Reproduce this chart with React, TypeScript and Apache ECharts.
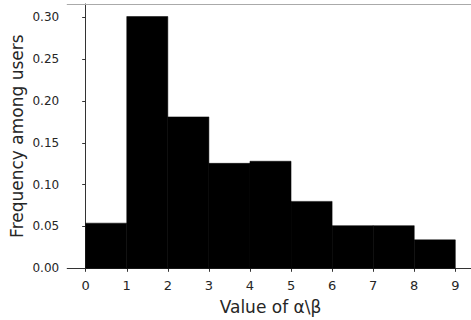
import React, { useEffect, useRef } from "react";
import * as echarts from "echarts";

const binEdges = [0, 1, 2, 3, 4, 5, 6, 7, 8, 9];
const frequencies = [0.054, 0.301, 0.181, 0.1255, 0.128, 0.08, 0.051, 0.051, 0.034];
const xTicks = [0, 1, 2, 3, 4, 5, 6, 7, 8, 9];
const yTicks = [0, 0.05, 0.1, 0.15, 0.2, 0.25, 0.3];
const xLabel = "Value of α\\β";
const yLabel = "Frequency among users";

const FONT = "DejaVu Sans";

export default function App() {
  const ref = useRef<HTMLDivElement>(null);
  useEffect(() => {
    if (!ref.current) return;
    const chart = echarts.init(ref.current, null, { renderer: "svg" });
    const data = frequencies.map((v, i) => [binEdges[i], binEdges[i + 1], v]);
    chart.setOption({
      animation: false,
      backgroundColor: "#ffffff",
      grid: {
        left: 67.2,
        right: -2.8,
        top: 4,
        bottom: 51.7,
        containLabel: false,
        outerBoundsMode: "none",
      },
      xAxis: [
        {
          type: "value",
          min: -0.45,
          max: 9.45,
          position: "bottom",
          axisLine: { show: true, lineStyle: { color: "#333", width: 1 } },
          axisTick: {
            show: true,
            length: 3.5,
            customValues: xTicks,
            lineStyle: { color: "#333" },
          },
          axisLabel: {
            customValues: xTicks,
            fontFamily: FONT,
            fontSize: 13,
            color: "#262626",
            margin: 11,
          },
          splitLine: { show: false },
          name: xLabel,
          nameLocation: "middle",
          nameGap: 30,
          nameMoveOverlap: false,
          nameTextStyle: { fontFamily: FONT, fontSize: 17, color: "#262626" },
        },
        {
          type: "value",
          min: -0.45,
          max: 9.45,
          position: "top",
          axisLine: { show: true, lineStyle: { color: "#aaa", width: 1 } },
          axisTick: { show: false },
          axisLabel: { show: false },
          splitLine: { show: false },
        },
      ],
      yAxis: {
        type: "value",
        min: 0,
        max: 0.316,
        axisLine: { show: true, lineStyle: { color: "#333", width: 1 } },
        axisTick: {
          show: true,
          length: 3.5,
          customValues: yTicks,
          lineStyle: { color: "#333" },
        },
        axisLabel: {
          customValues: yTicks,
          formatter: (v: number) => v.toFixed(2),
          fontFamily: FONT,
          fontSize: 12,
          color: "#262626",
          margin: 8,
        },
        splitLine: { show: false },
        name: yLabel,
        nameLocation: "middle",
        nameGap: 42,
        nameMoveOverlap: false,
        nameTextStyle: { fontFamily: FONT, fontSize: 17, color: "#262626" },
      },
      series: [
        {
          type: "custom",
          xAxisIndex: 0,
          yAxisIndex: 0,
          data,
          renderItem: (params: any, api: any) => {
            const start = api.coord([api.value(0), api.value(2)]);
            const end = api.coord([api.value(1), 0]);
            return {
              type: "rect",
              shape: {
                x: start[0],
                y: start[1],
                width: end[0] - start[0],
                height: end[1] - start[1],
              },
              style: { fill: "#000000", stroke: "#000000", lineWidth: 0.5 },
            };
          },
        },
      ],
    });
    return () => chart.dispose();
  }, []);
  return (
    <div
      ref={ref}
      style={{ position: "fixed", left: 0, top: 0, width: 471, height: 320 }}
    />
  );
}
